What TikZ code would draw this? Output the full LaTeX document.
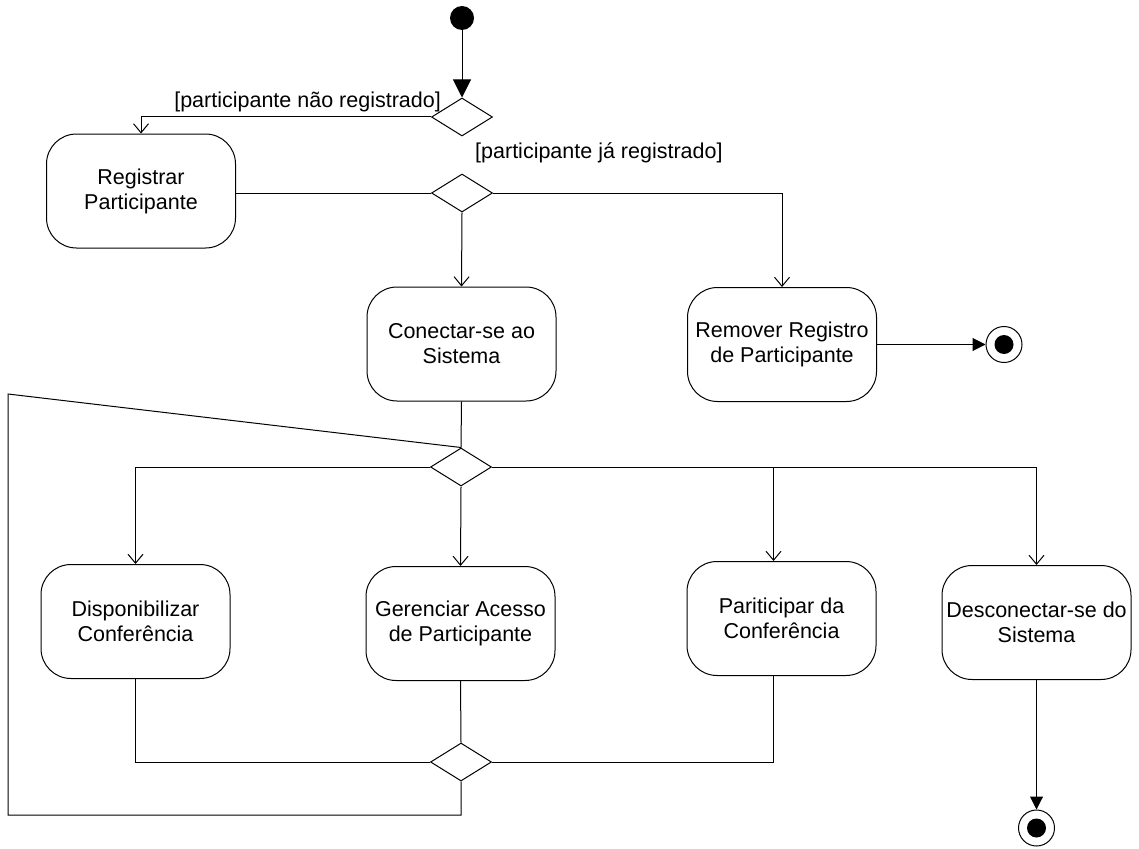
\documentclass[tikz,border=0pt]{standalone}
\usepackage{fontspec}
\setmainfont{Liberation Sans}
\usepackage{tikz}
\usetikzlibrary{arrows.meta,calc,positioning,shapes.geometric}
\tikzset{
  acao/.style={
    rounded corners=30pt,
    draw=black,
    line width=1pt,
    align=center,
    minimum width=189pt,
    minimum height=114pt,
    inner sep=0pt,
    font=\fontsize{21.5}{25}\selectfont
  },
  decisao/.style={
    diamond,
    draw=black,
    line width=1pt,
    aspect=1.6,
    minimum width=61pt,
    minimum height=38pt,
    inner sep=0pt
  },
  inicio/.style={
    circle,
    fill=black,
    minimum size=24pt,
    inner sep=0pt
  },
  fim/.style={
    circle,
    draw=black,
    line width=1pt,
    minimum size=36pt,
    inner sep=0pt,
    path picture={\fill[black] (path picture bounding box.center) circle (9.5pt);}
  },
  guarda/.style={
    inner sep=0pt,
    font=\fontsize{21.5}{25}\selectfont
  },
  linha/.style={
    line width=1pt,
    black
  },
  fluxo/.style={
    linha,
    -{Straight Barb[length=9pt,width=15pt,line width=1pt]}
  },
  seta/.style={
    linha,
    -{Triangle[length=18pt,width=18pt]}
  },
  setap/.style={
    linha,
    -{Triangle[length=13pt,width=13pt]}
  }
}
\begin{document}
\begin{tikzpicture}[x=1pt,y=-1pt]
\useasboundingbox (0,0) rectangle (1139,848);
% inicio e primeira decisao
\node[inicio] (ini) at (462,18) {};
\node[decisao] (d1) at (462,117) {};
\node[guarda,anchor=base east] (gNao) at (441,108) {[participante não registrado]};
\node[guarda,anchor=base west] (gJa) at (475,158) {[participante já registrado]};
\node[acao] (reg) at (141,191) {Registrar\\Participante};
\node[decisao] (d2) at (462,193) {};
\node[acao] (con) at (461.5,344) {Conectar-se ao\\Sistema};
\node[acao] (rem) at (782,344.5) {Remover Registro\\de Participante};
\node[fim] (fim1) at (1004,344.5) {};
% atividades principais
\node[decisao] (d3) at (461,467) {};
\node[acao] (disp) at (135.5,621.5) {Disponibilizar\\Conferência};
\node[acao] (ger) at (460.5,623.5) {Gerenciar Acesso\\de Participante};
\node[acao] (par) at (781.5,618.5) {Pariticipar da\\Conferência};
\node[acao] (desc) at (1036.5,622.5) {Desconectar-se do\\Sistema};
\node[decisao] (d4) at (461,762) {};
\node[fim] (fim2) at (1036.5,828) {};
\coordinate (laco1) at (8,394);
\coordinate (laco2) at (8,815);

\draw[seta] (ini) -- (d1);
\draw[fluxo] (d1.west) -| (reg.north);
\draw[linha] (d2.west) -- (d2.west -| reg.east);
\draw[fluxo] (d2.south) -- (con.north);
\draw[fluxo] (d2.east) -| (rem.north);
\draw[setap] (rem.east) -- (fim1);
\draw[linha] (con.south) -- (d3.north);
\draw[fluxo] (d3.west) -| (disp.north);
\draw[fluxo] (d3.south) -- (ger.north);
\draw[fluxo] (d3.east) -| ([xshift=-8pt]par.north);
\draw[fluxo] (d3.east) -| (desc.north);
\draw[linha] (disp.south) |- (d4.west);
\draw[linha] (ger.south) -- (d4.north);
\draw[linha] ([xshift=-8pt]par.south) |- (d4.east);
\draw[linha] (d4.south) |- (laco2) -- (laco1) -- (d3.north);
\draw[setap] (desc.south) -- (fim2);
\end{tikzpicture}
\end{document}
